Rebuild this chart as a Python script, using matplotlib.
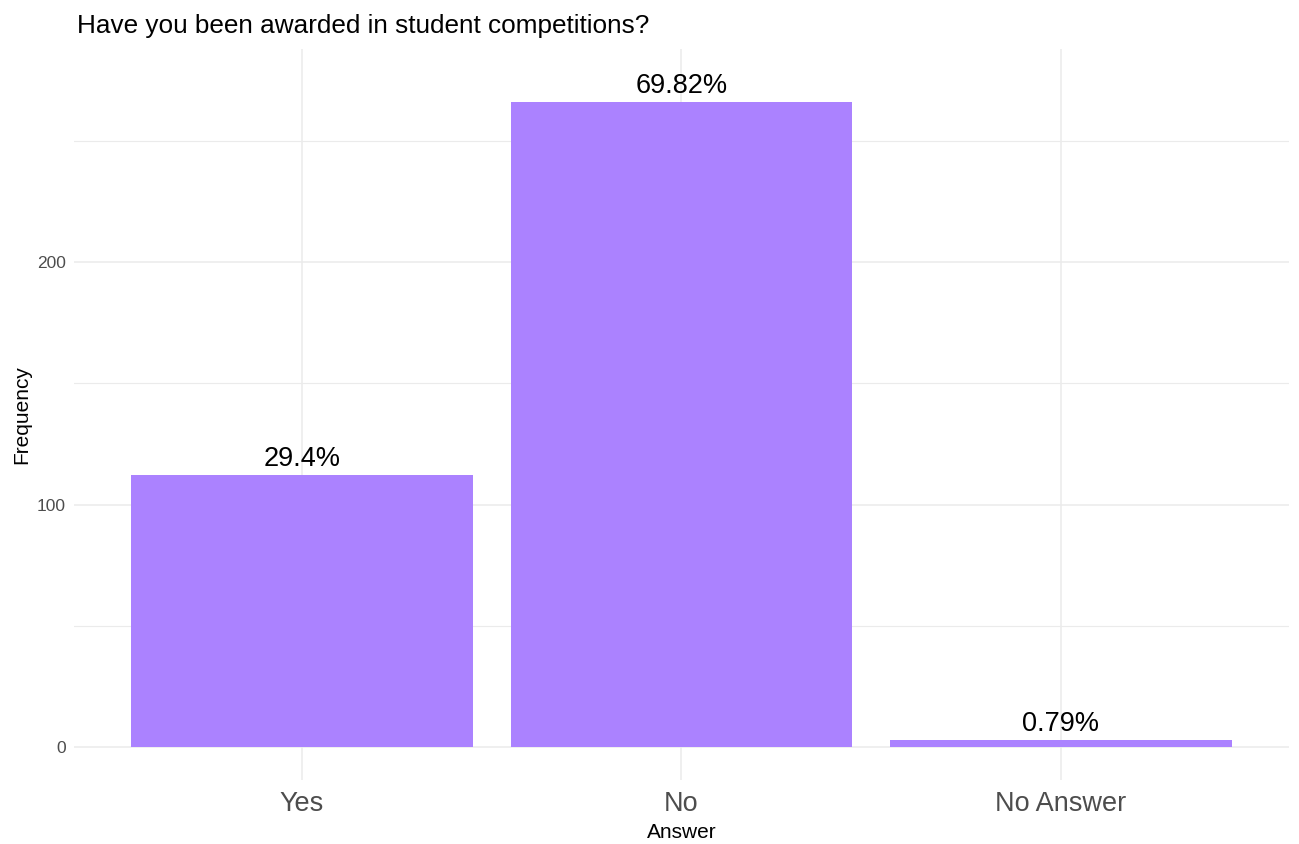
import numpy as np
import matplotlib as mpl
mpl.use("Agg")
import matplotlib.pyplot as plt

plt.rcParams['font.family'] = ['Liberation Sans', 'DejaVu Sans']

# survey answers and counts
answers = ['Yes', 'No', 'No Answer']
counts = [112, 266, 3]
pct_labels = ['29.4%', '69.82%', '0.79%']
y_major = [0, 100, 200]
y_minor = [50, 150, 250]

bar_color = '#AB82FF'
grid_color = '#EBEBEB'
tick_color = '#4D4D4D'

fig = plt.figure(figsize=(12.99, 8.44), dpi=100)
ax = fig.add_axes([0.057, 0.0758, 0.935, 0.866])

x = np.arange(1, len(answers) + 1)
ax.bar(x, counts, width=0.9, color=bar_color, zorder=2)

for xi, c, lab in zip(x, counts, pct_labels):
    ax.annotate(lab, (xi, c), xytext=(0, 6.5), textcoords='offset points',
                ha='center', va='baseline', fontsize=19.5, color='black', zorder=3)

ax.set_xlim(0.4, 3.6)
ax.set_ylim(-13.6, 287.8)
ax.set_xticks(x)
ax.set_xticklabels(answers, fontsize=19.5, color=tick_color)
ax.set_yticks(y_major)
ax.set_yticks(y_minor, minor=True)
ax.set_yticklabels([str(v) for v in y_major], fontsize=12.5, color=tick_color)

ax.grid(True, which='major', color=grid_color, linewidth=1.1, zorder=0)
ax.grid(True, which='minor', axis='y', color=grid_color, linewidth=0.8, zorder=0)
ax.tick_params(axis='both', which='both', length=0)
ax.tick_params(axis='x', pad=8)
ax.tick_params(axis='y', pad=6)
for s in ax.spines.values():
    s.set_visible(False)

ax.set_xlabel('Answer', fontsize=15, labelpad=4)
ax.set_ylabel('Frequency', fontsize=15, labelpad=4)
fig.text(0.0593, 0.961, 'Have you been awarded in student competitions?',
         fontsize=18.8, ha='left', va='baseline')

fig.savefig('out.png', dpi=100)
